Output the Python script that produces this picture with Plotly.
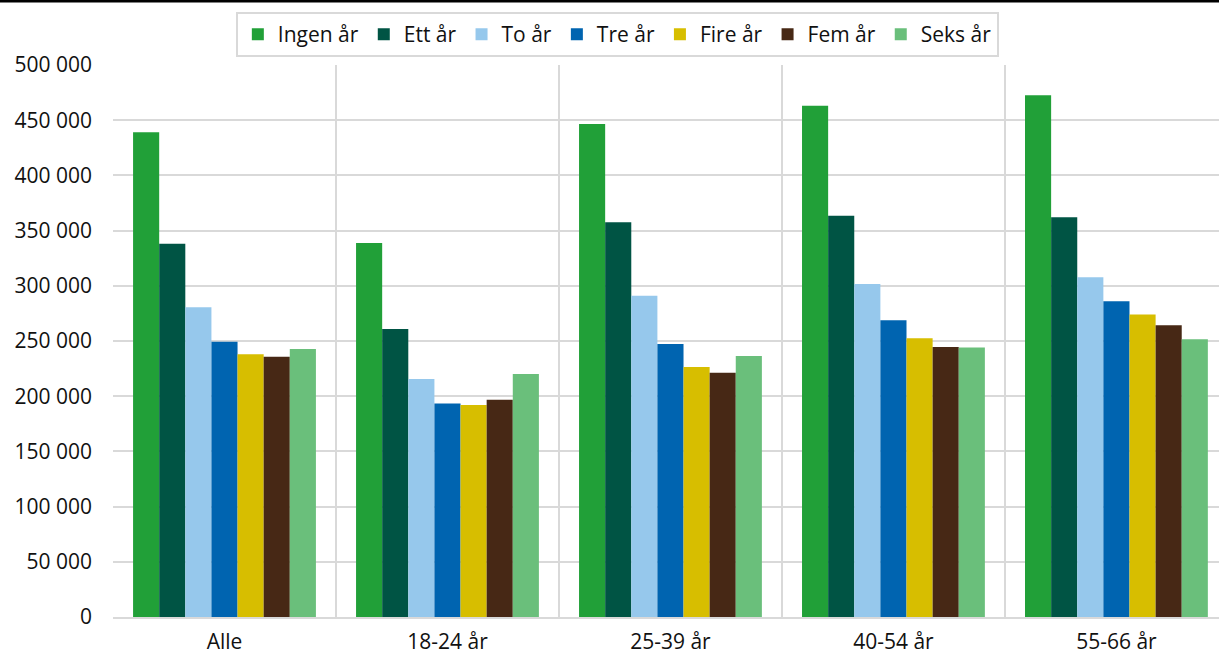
import plotly.graph_objects as go

categories = ["Alle", "18-24 år", "25-39 år", "40-54 år", "55-66 år"]
series_names = ["Ingen år", "Ett år", "To år", "Tre år", "Fire år", "Fem år", "Seks år"]

ingen = [439000, 338800, 446600, 463200, 472500]
ett = [338000, 260900, 357500, 363500, 362000]
to = [280500, 215600, 291000, 301600, 307700]
tre = [249400, 193500, 247300, 268700, 286000]
fire = [238000, 192000, 226400, 252400, 273900]
fem = [235800, 196800, 221300, 244600, 264200]
seks = [242800, 220100, 236400, 244000, 251500]

values = [ingen, ett, to, tre, fire, fem, seks]
colors = ["#21A038", "#005444", "#96C8EC", "#0064B0", "#D7BE00", "#472815", "#6ABF7B"]

y_ticks = [0, 50000, 100000, 150000, 200000, 250000, 300000, 350000, 400000, 450000, 500000]
y_tick_text = ["0", "50 000", "100 000", "150 000", "200 000", "250 000", "300 000",
               "350 000", "400 000", "450 000", "500 000"]

fig = go.Figure()
for name, vals, col in zip(series_names, values, colors):
    fig.add_trace(go.Bar(x=categories, y=vals, name=name,
                         marker=dict(color=col, line=dict(width=0))))

fig.update_layout(
    width=1219, height=657,
    margin=dict(l=113, r=0, t=65, b=40),
    paper_bgcolor="white", plot_bgcolor="white",
    font=dict(family="Open Sans", size=21, color="#111111"),
    barmode="group", bargap=0.18, bargroupgap=0,
    showlegend=True,
    legend=dict(orientation="h", xanchor="center", x=0.456, yanchor="bottom", y=1.0145,
                bordercolor="#d9d9d9", borderwidth=2, font=dict(size=21),
                itemclick=False, traceorder="normal"),
    xaxis=dict(type="category", range=[-0.5, 4.46], showgrid=True, tickson="boundaries",
               gridcolor="#d9d9d9", gridwidth=2, ticks="", showline=True,
               linecolor="#d9d9d9", linewidth=2, ticklabelstandoff=5),
    yaxis=dict(range=[0, 500000], tickvals=y_ticks, ticktext=y_tick_text,
               showgrid=True, gridcolor="#d9d9d9", gridwidth=2, zeroline=False,
               showline=False, ticks="", ticklabelstandoff=20),
)

fig.add_shape(type="line", xref="paper", yref="paper",
              x0=-0.2, x1=1.05, y0=1 + 64.0 / 552, y1=1 + 64.0 / 552,
              line=dict(color="black", width=3))

fig.write_html("out.html", config={"displayModeBar": False},
               post_script="document.body.style.margin='0';document.body.style.overflow='hidden';")
